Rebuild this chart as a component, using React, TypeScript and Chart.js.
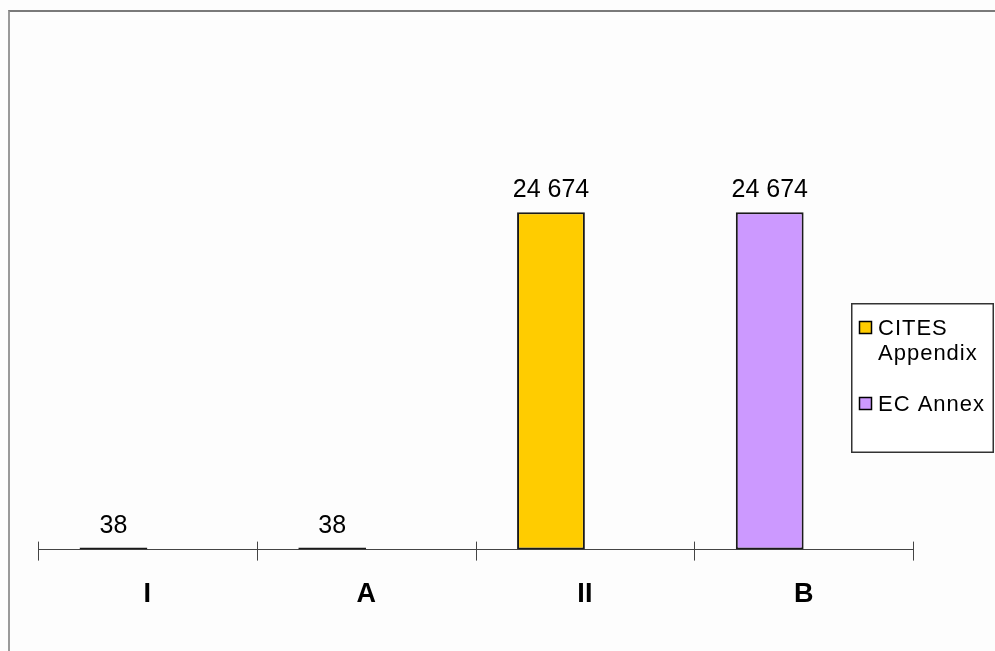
import { useEffect, useRef } from "react";
import { Chart, registerables } from "chart.js";

Chart.register(...registerables);

// Number of specimens listed, by CITES Appendix and EC Annex
const categories = ["I", "A", "II", "B"];
const citesAppendix = [38, null, 24674, null];
const ecAnnex = [null, 38, null, 24674];
const emptySlot = [null, null, null, null];
const seriesNames = ["CITES Appendix", "EC Annex"];
const seriesColors = ["#FFCC00", "#CC99FF"];

const FONT = "'Liberation Sans', Arial, Helvetica, sans-serif";

function formatValue(v: number): string {
  return String(v).replace(/\B(?=(\d{3})+(?!\d))/g, " ");
}

// Value labels above every bar
const valueLabels = {
  id: "valueLabels",
  afterDatasetsDraw(chart: any) {
    const ctx = chart.ctx;
    ctx.save();
    ctx.font = `25px ${FONT}`;
    ctx.fillStyle = "#000";
    ctx.textAlign = "center";
    ctx.textBaseline = "alphabetic";
    chart.data.datasets.forEach((ds: any, di: number) => {
      const meta = chart.getDatasetMeta(di);
      meta.data.forEach((el: any, i: number) => {
        const v = ds.data[i];
        if (v === null || v === undefined) return;
        ctx.fillText(formatValue(v), el.x, el.y - 15);
      });
    });
    ctx.restore();
  },
};

// Category boundary ticks crossing the x axis
const crossTicks = {
  id: "crossTicks",
  afterDraw(chart: any) {
    const sx = chart.scales.x;
    const base = chart.chartArea.bottom;
    const n = chart.data.labels.length;
    const ctx = chart.ctx;
    ctx.save();
    ctx.strokeStyle = "#444";
    ctx.lineWidth = 1;
    for (let i = 0; i <= n; i++) {
      const px = Math.round(sx.left + ((sx.right - sx.left) * i) / n) + 0.5;
      ctx.beginPath();
      ctx.moveTo(px, base - 8);
      ctx.lineTo(px, base + 11);
      ctx.stroke();
    }
    ctx.restore();
  },
};

// Boxed legend at the right, with word-wrapped labels
const boxLegend = {
  id: "boxLegend",
  afterDraw(chart: any) {
    const ctx = chart.ctx;
    const box = { x: 851, y: 303, w: 143, h: 150 };
    ctx.save();
    ctx.fillStyle = "#fff";
    ctx.fillRect(box.x, box.y, box.w, box.h);
    ctx.strokeStyle = "#333";
    ctx.lineWidth = 1.5;
    ctx.strokeRect(box.x + 0.75, box.y + 0.75, box.w - 1.5, box.h - 1.5);

    ctx.font = `22px ${FONT}`;
    (ctx as any).letterSpacing = "1px";
    ctx.textAlign = "left";
    ctx.textBaseline = "alphabetic";
    const textX = box.x + 27;
    const maxW = box.x + box.w - textX - 2;
    const lineH = 25;
    let baseline = box.y + 32;
    chart.data.datasets
      .filter((ds: any) => ds.label)
      .forEach((ds: any) => {
        ctx.fillStyle = ds.backgroundColor;
        ctx.fillRect(box.x + 8, baseline - 14, 13, 13);
        ctx.strokeStyle = "#000";
        ctx.lineWidth = 1.5;
        ctx.strokeRect(box.x + 8.5, baseline - 13.5, 12, 12);
        const words = String(ds.label).split(" ");
        const lines: string[] = [];
        let cur = "";
        words.forEach((w) => {
          const t = cur ? cur + " " + w : w;
          if (cur && ctx.measureText(t).width > maxW) {
            lines.push(cur);
            cur = w;
          } else {
            cur = t;
          }
        });
        if (cur) lines.push(cur);
        ctx.fillStyle = "#000";
        lines.forEach((ln, k) => ctx.fillText(ln, textX, baseline + k * lineH));
        baseline += lines.length * lineH + 26;
      });
    ctx.restore();
  },
};

export default function App() {
  const ref = useRef<HTMLCanvasElement | null>(null);

  useEffect(() => {
    if (!ref.current) return;
    const barStyle = {
      borderColor: "#1a1a1a",
      borderWidth: 2,
      borderSkipped: false,
      minBarLength: 2,
    };
    const chart = new Chart(ref.current, {
      type: "bar",
      data: {
        labels: categories,
        datasets: [
          {
            label: seriesNames[0],
            data: citesAppendix,
            backgroundColor: seriesColors[0],
            stack: "listed",
            ...barStyle,
          },
          {
            label: seriesNames[1],
            data: ecAnnex,
            backgroundColor: seriesColors[1],
            stack: "listed",
            ...barStyle,
          },
          {
            label: "",
            data: emptySlot,
            backgroundColor: "transparent",
            stack: "empty",
            borderWidth: 0,
          },
        ],
      },
      options: {
        animation: false,
        responsive: false,
        maintainAspectRatio: false,
        events: [],
        layout: { padding: { left: 38, right: 82, top: 112, bottom: 11 } },
        datasets: {
          bar: { categoryPercentage: 0.62, barPercentage: 1 },
        },
        plugins: {
          legend: { display: false },
          tooltip: { enabled: false },
          title: { display: false },
        },
        scales: {
          x: {
            offset: true,
            grid: { display: false, drawTicks: false },
            border: { display: true, color: "#444", width: 1 },
            ticks: {
              padding: 29,
              color: "#000",
              font: { family: FONT, size: 27, weight: "bold" },
            },
          },
          y: {
            display: false,
            min: 0,
            max: 32000,
          },
        },
      },
      plugins: [valueLabels, crossTicks, boxLegend],
    });
    return () => chart.destroy();
  }, []);

  return (
    <div
      style={{
        position: "absolute",
        left: 0,
        top: 0,
        width: 995,
        height: 651,
        overflow: "hidden",
        background: "#fdfdfd",
      }}
    >
      <div
        style={{
          position: "absolute",
          left: 8,
          top: 10,
          width: 1000,
          height: 700,
          borderTop: "2px solid #7a7a7a",
          borderLeft: "2px solid #9a9a9a",
        }}
      />
      <canvas
        ref={ref}
        width={995}
        height={651}
        style={{ position: "absolute", left: 0, top: 0, width: 995, height: 651 }}
      />
    </div>
  );
}
